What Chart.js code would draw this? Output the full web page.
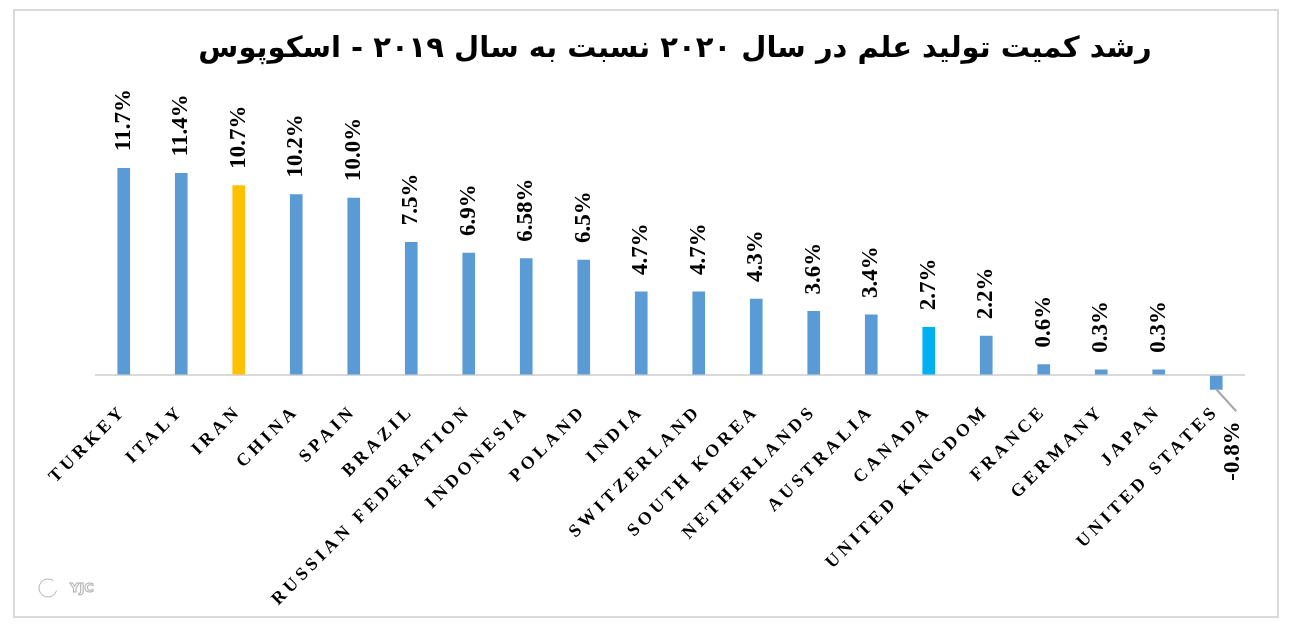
<!DOCTYPE html>
<html>
<head>
<meta charset="utf-8">
<script src="https://cdn.jsdelivr.net/npm/chart.js@4.4.0/dist/chart.umd.min.js"></script>
<style>
    html, body { margin: 0; padding: 0; background: #fff; }
    #wrap { position: relative; width: 1292px; height: 630px; }
    #frame { position: absolute; left: 13px; top: 9px; width: 1262px; height: 605px; border: 2px solid #d9d9d9; pointer-events: none; }
</style>
</head>
<body>
<div id="wrap">
    <canvas id="chart" width="1292" height="630"></canvas>
    <div id="frame"></div>
</div>
<script>
const categories = ['TURKEY', 'ITALY', 'IRAN', 'CHINA', 'SPAIN', 'BRAZIL', 'RUSSIAN FEDERATION', 'INDONESIA', 'POLAND', 'INDIA',
    'SWITZERLAND', 'SOUTH KOREA', 'NETHERLANDS', 'AUSTRALIA', 'CANADA', 'UNITED KINGDOM', 'FRANCE', 'GERMANY', 'JAPAN', 'UNITED STATES'];
const growth = [11.7, 11.4, 10.7, 10.2, 10.0, 7.5, 6.9, 6.58, 6.5, 4.7, 4.7, 4.3, 3.6, 3.4, 2.7, 2.2, 0.6, 0.3, 0.3, -0.8];
const valueLabels = ['11.7%', '11.4%', '10.7%', '10.2%', '10.0%', '7.5%', '6.9%', '6.58%', '6.5%', '4.7%',
    '4.7%', '4.3%', '3.6%', '3.4%', '2.7%', '2.2%', '0.6%', '0.3%', '0.3%', '-0.8%'];
const titleText = 'رشد کمیت تولید علم در سال ۲۰۲۰ نسبت به سال ۲۰۱۹ - اسکوپوس';

const BLUE = '#5b9bd5';
const barColors = categories.map(c => c === 'IRAN' ? '#ffc000' : c === 'CANADA' ? '#00b0f0' : BLUE);

const SERIF = "'Liberation Serif', 'Times New Roman', serif";

// x labels in the reference are widely letter-spaced
const spacingPlugin = {
    id: 'spacing',
    beforeLayout(chart) { chart.ctx.letterSpacing = '4px'; },
    beforeDraw(chart) { chart.ctx.letterSpacing = '4px'; }
};

const extrasPlugin = {
    id: 'extras',
    afterDraw(chart) {
        const ctx = chart.ctx;
        const meta = chart.getDatasetMeta(0);
        ctx.save();
        ctx.letterSpacing = '0px';

        // value labels, rotated
        ctx.fillStyle = '#000';
        ctx.font = 'bold 23px ' + SERIF;
        ctx.textBaseline = 'middle';
        meta.data.forEach((bar, i) => {
            const v = growth[i];
            ctx.save();
            if (v >= 0) {
                ctx.translate(bar.x, bar.y - 17);
                ctx.rotate(-Math.PI / 2);
                ctx.textAlign = 'left';
                ctx.fillText(valueLabels[i], 0, 0);
            } else {
                ctx.strokeStyle = '#a6a6a6';
                ctx.lineWidth = 2;
                ctx.beginPath();
                ctx.moveTo(bar.x, bar.y);
                ctx.lineTo(bar.x + 20, bar.y + 22);
                ctx.stroke();
                ctx.translate(bar.x + 17, bar.y + 32);
                ctx.rotate(-Math.PI / 2);
                ctx.textAlign = 'right';
                ctx.fillText(valueLabels[i], 0, 0);
            }
            ctx.restore();
        });

        // title
        ctx.font = 'bold 29px "DejaVu Sans", sans-serif';
        ctx.textAlign = 'center';
        ctx.textBaseline = 'middle';
        ctx.direction = 'rtl';
        ctx.fillText(titleText, 675, 49);

        // watermark
        ctx.direction = 'ltr';
        ctx.font = 'bold 13px "DejaVu Sans", sans-serif';
        ctx.textAlign = 'left';
        ctx.strokeStyle = '#b0b0b0';
        ctx.lineWidth = 1;
        ctx.strokeText('YJC', 70, 589);
        ctx.beginPath();
        ctx.arc(48, 588, 9, 0.3, Math.PI * 1.7);
        ctx.stroke();
        ctx.restore();
    }
};

new Chart(document.getElementById('chart'), {
    type: 'bar',
    data: {
        labels: categories,
        datasets: [{
            data: growth,
            backgroundColor: barColors,
            barThickness: 12,
            borderWidth: 0
        }]
    },
    options: {
        responsive: false,
        animation: false,
        layout: { padding: { left: 95, right: 47, top: 168, bottom: 20 } },
        plugins: {
            legend: { display: false },
            title: { display: false },
            tooltip: { enabled: false }
        },
        scales: {
            x: {
                grid: { display: false },
                border: { display: false },
                ticks: {
                    autoSkip: false,
                    maxRotation: 45,
                    minRotation: 45,
                    padding: 0,
                    color: '#000',
                    font: { family: SERIF, size: 18, weight: 'bold' }
                }
            },
            y: {
                min: -1,
                max: 11.7,
                ticks: { display: false },
                border: { display: false },
                grid: {
                    drawTicks: false,
                    lineWidth: 2,
                    color: c => c.tick && c.tick.value === 0 ? '#d9d9d9' : 'rgba(0,0,0,0)'
                },
                afterBuildTicks(axis) {
                    axis.ticks = [{ value: 0 }];
                }
            }
        }
    },
    plugins: [spacingPlugin, extrasPlugin]
});
</script>
</body>
</html>
